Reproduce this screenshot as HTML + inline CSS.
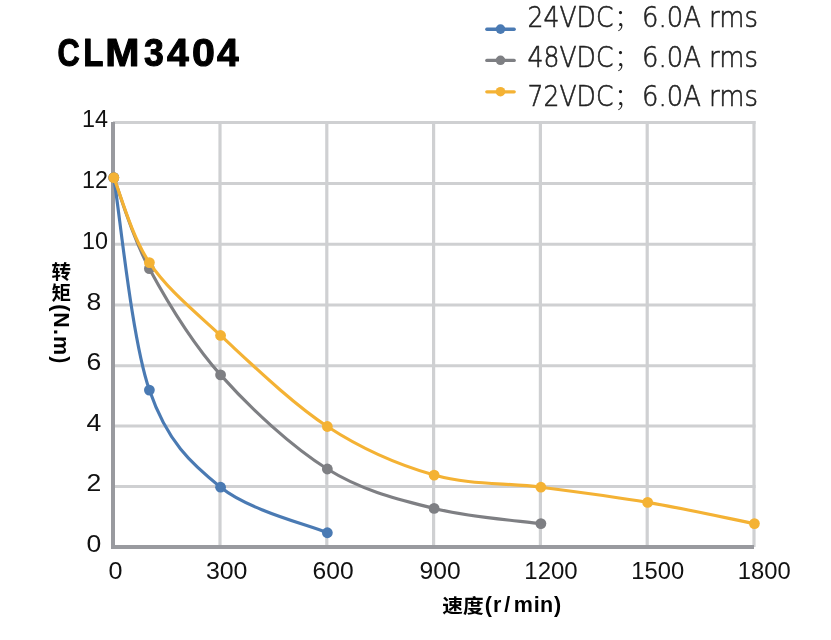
<!DOCTYPE html>
<html lang="zh"><head><meta charset="utf-8"><title>CLM3404</title>
<style>html,body{margin:0;padding:0;background:#fff}svg{display:block}</style>
</head><body>
<svg width="831" height="640" viewBox="0 0 831 640">
<rect width="831" height="640" fill="#fff"/>
<line x1="113" y1="486.60" x2="755.5" y2="486.60" stroke="#cfd0d2" stroke-width="3"/>
<line x1="113" y1="426.00" x2="755.5" y2="426.00" stroke="#cfd0d2" stroke-width="3"/>
<line x1="113" y1="365.70" x2="755.5" y2="365.70" stroke="#cfd0d2" stroke-width="3"/>
<line x1="113" y1="305.00" x2="755.5" y2="305.00" stroke="#cfd0d2" stroke-width="3"/>
<line x1="113" y1="244.25" x2="755.5" y2="244.25" stroke="#cfd0d2" stroke-width="3"/>
<line x1="113" y1="183.40" x2="755.5" y2="183.40" stroke="#cfd0d2" stroke-width="3"/>
<line x1="113" y1="122.50" x2="755.5" y2="122.50" stroke="#cfd0d2" stroke-width="3"/>
<line x1="220.00" y1="121" x2="220.00" y2="547" stroke="#cfd0d2" stroke-width="3.2"/>
<line x1="326.80" y1="121" x2="326.80" y2="547" stroke="#cfd0d2" stroke-width="3.2"/>
<line x1="433.60" y1="121" x2="433.60" y2="547" stroke="#cfd0d2" stroke-width="3.2"/>
<line x1="540.40" y1="121" x2="540.40" y2="547" stroke="#cfd0d2" stroke-width="3.2"/>
<line x1="647.20" y1="121" x2="647.20" y2="547" stroke="#cfd0d2" stroke-width="3.2"/>
<line x1="754.00" y1="121" x2="754.00" y2="547" stroke="#cfd0d2" stroke-width="3.2"/>
<line x1="113" y1="122" x2="113" y2="549" stroke="#999a9f" stroke-width="4"/>
<line x1="111" y1="547" x2="754" y2="547" stroke="#999a9f" stroke-width="4"/>
<path d="M113.80 177.63 C119.73 213.04 131.59 338.48 149.39 390.08 C167.18 441.67 190.91 463.43 220.57 487.20 C250.23 510.97 309.54 525.14 327.34 532.73" fill="none" stroke="#4a7ab3" stroke-width="3.15" stroke-linecap="round" stroke-linejoin="round"/>
<circle cx="113.80" cy="177.63" r="5.4" fill="#4a7ab3"/>
<circle cx="149.39" cy="390.08" r="5.4" fill="#4a7ab3"/>
<circle cx="220.57" cy="487.20" r="5.4" fill="#4a7ab3"/>
<circle cx="327.34" cy="532.73" r="5.4" fill="#4a7ab3"/>
<path d="M113.80 177.63 C119.73 192.81 131.59 235.80 149.39 268.68 C167.18 301.56 190.91 341.52 220.57 374.90 C250.23 408.29 291.75 446.73 327.34 468.99 C362.93 491.25 398.52 499.34 434.11 508.44 C469.70 517.55 523.09 521.09 540.88 523.62" fill="none" stroke="#7e7f83" stroke-width="3.15" stroke-linecap="round" stroke-linejoin="round"/>
<circle cx="113.80" cy="177.63" r="5.4" fill="#7e7f83"/>
<circle cx="149.39" cy="268.68" r="5.4" fill="#7e7f83"/>
<circle cx="220.57" cy="374.90" r="5.4" fill="#7e7f83"/>
<circle cx="327.34" cy="468.99" r="5.4" fill="#7e7f83"/>
<circle cx="434.11" cy="508.44" r="5.4" fill="#7e7f83"/>
<circle cx="540.88" cy="523.62" r="5.4" fill="#7e7f83"/>
<path d="M113.80 177.63 C119.73 191.79 131.59 236.31 149.39 262.61 C167.18 288.91 190.91 308.13 220.57 335.45 C250.23 362.76 291.75 403.23 327.34 426.50 C362.93 449.77 398.52 464.94 434.11 475.06 C469.70 485.18 505.29 482.65 540.88 487.20 C576.47 491.75 612.06 496.31 647.65 502.38 C683.24 508.44 736.62 520.08 754.42 523.62" fill="none" stroke="#f4b234" stroke-width="3.15" stroke-linecap="round" stroke-linejoin="round"/>
<circle cx="113.80" cy="177.63" r="5.4" fill="#f4b234"/>
<circle cx="149.39" cy="262.61" r="5.4" fill="#f4b234"/>
<circle cx="220.57" cy="335.45" r="5.4" fill="#f4b234"/>
<circle cx="327.34" cy="426.50" r="5.4" fill="#f4b234"/>
<circle cx="434.11" cy="475.06" r="5.4" fill="#f4b234"/>
<circle cx="540.88" cy="487.20" r="5.4" fill="#f4b234"/>
<circle cx="647.65" cy="502.38" r="5.4" fill="#f4b234"/>
<circle cx="754.42" cy="523.62" r="5.4" fill="#f4b234"/>
<line x1="486.8" y1="29.25" x2="514.2" y2="29.25" stroke="#4a7ab3" stroke-width="3.3" stroke-linecap="round"/>
<circle cx="500.5" cy="29.1" r="4.8" fill="#4a7ab3"/>
<line x1="486.8" y1="60.45" x2="514.2" y2="60.45" stroke="#7e7f83" stroke-width="3.3" stroke-linecap="round"/>
<circle cx="500.5" cy="60.3" r="4.8" fill="#7e7f83"/>
<line x1="486.8" y1="91.85" x2="514.2" y2="91.85" stroke="#f4b234" stroke-width="3.3" stroke-linecap="round"/>
<circle cx="500.5" cy="91.7" r="4.8" fill="#f4b234"/>
<text y="26.6" font-family="'DejaVu Sans Light', 'Liberation Sans', sans-serif" font-size="27.5" fill="#222" stroke="#222" stroke-width="0.55"><tspan x="527.6" textLength="85.8" lengthAdjust="spacingAndGlyphs">24VDC</tspan><tspan x="614.2" font-family="'Noto Sans CJK SC', sans-serif" font-weight="300" font-size="25" fill="#222" stroke="none">；</tspan><tspan x="642" textLength="116" lengthAdjust="spacingAndGlyphs">6.0A rms</tspan></text>
<text y="66.5" font-family="'DejaVu Sans Light', 'Liberation Sans', sans-serif" font-size="27.5" fill="#222" stroke="#222" stroke-width="0.55"><tspan x="527.6" textLength="85.8" lengthAdjust="spacingAndGlyphs">48VDC</tspan><tspan x="614.2" font-family="'Noto Sans CJK SC', sans-serif" font-weight="300" font-size="25" fill="#222" stroke="none">；</tspan><tspan x="642" textLength="116" lengthAdjust="spacingAndGlyphs">6.0A rms</tspan></text>
<text y="106.4" font-family="'DejaVu Sans Light', 'Liberation Sans', sans-serif" font-size="27.5" fill="#222" stroke="#222" stroke-width="0.55"><tspan x="527.6" textLength="85.8" lengthAdjust="spacingAndGlyphs">72VDC</tspan><tspan x="614.2" font-family="'Noto Sans CJK SC', sans-serif" font-weight="300" font-size="25" fill="#222" stroke="none">；</tspan><tspan x="642" textLength="116" lengthAdjust="spacingAndGlyphs">6.0A rms</tspan></text>
<text y="66.1" font-family="'Liberation Sans', sans-serif" font-weight="bold" font-size="39.5" fill="#000" stroke="#000" stroke-width="1.1" stroke-linejoin="round"><tspan x="57.6" textLength="22.2" lengthAdjust="spacingAndGlyphs">C</tspan><tspan x="83.2" textLength="20.2" lengthAdjust="spacingAndGlyphs">L</tspan><tspan x="105.3" textLength="34.2" lengthAdjust="spacingAndGlyphs">M</tspan><tspan x="143.9" textLength="19.8" lengthAdjust="spacingAndGlyphs">3</tspan><tspan x="167.0" textLength="21.8" lengthAdjust="spacingAndGlyphs">4</tspan><tspan x="191.9" textLength="22.9" lengthAdjust="spacingAndGlyphs">0</tspan><tspan x="216.9" textLength="21.7" lengthAdjust="spacingAndGlyphs">4</tspan></text>
<text x="86.6" y="551.9" font-family="'Liberation Sans', sans-serif" font-size="24.6" fill="#111" textLength="14.8" lengthAdjust="spacingAndGlyphs">0</text>
<text x="86.6" y="491.1" font-family="'Liberation Sans', sans-serif" font-size="24.6" fill="#111" textLength="14.8" lengthAdjust="spacingAndGlyphs">2</text>
<text x="86.6" y="430.5" font-family="'Liberation Sans', sans-serif" font-size="24.6" fill="#111" textLength="14.8" lengthAdjust="spacingAndGlyphs">4</text>
<text x="86.6" y="370.2" font-family="'Liberation Sans', sans-serif" font-size="24.6" fill="#111" textLength="14.8" lengthAdjust="spacingAndGlyphs">6</text>
<text x="86.6" y="309.5" font-family="'Liberation Sans', sans-serif" font-size="24.6" fill="#111" textLength="14.8" lengthAdjust="spacingAndGlyphs">8</text>
<text x="82.0" y="248.8" font-family="'Liberation Sans', sans-serif" font-size="24.6" fill="#111" textLength="26.0" lengthAdjust="spacingAndGlyphs">10</text>
<text x="82.0" y="187.9" font-family="'Liberation Sans', sans-serif" font-size="24.6" fill="#111" textLength="26.0" lengthAdjust="spacingAndGlyphs">12</text>
<text x="82.0" y="127.0" font-family="'Liberation Sans', sans-serif" font-size="24.6" fill="#111" textLength="26.0" lengthAdjust="spacingAndGlyphs">14</text>
<text x="108.4" y="579.4" font-family="'Liberation Sans', sans-serif" font-size="24.6" fill="#111" textLength="14.0" lengthAdjust="spacingAndGlyphs">0</text>
<text x="205.9" y="579.4" font-family="'Liberation Sans', sans-serif" font-size="24.6" fill="#111" textLength="41.6" lengthAdjust="spacingAndGlyphs">300</text>
<text x="312.5" y="579.4" font-family="'Liberation Sans', sans-serif" font-size="24.6" fill="#111" textLength="41.1" lengthAdjust="spacingAndGlyphs">600</text>
<text x="419.6" y="579.4" font-family="'Liberation Sans', sans-serif" font-size="24.6" fill="#111" textLength="41.1" lengthAdjust="spacingAndGlyphs">900</text>
<text x="524.3" y="579.4" font-family="'Liberation Sans', sans-serif" font-size="24.6" fill="#111" textLength="53.4" lengthAdjust="spacingAndGlyphs">1200</text>
<text x="631.3" y="579.4" font-family="'Liberation Sans', sans-serif" font-size="24.6" fill="#111" textLength="52.9" lengthAdjust="spacingAndGlyphs">1500</text>
<text x="737.8" y="579.4" font-family="'Liberation Sans', sans-serif" font-size="24.6" fill="#111" textLength="52.9" lengthAdjust="spacingAndGlyphs">1800</text>
<text x="442.2" y="612.6" font-family="'Noto Sans CJK SC', 'Liberation Sans', sans-serif" font-weight="bold" font-size="19.5" fill="#000" textLength="41.4" lengthAdjust="spacingAndGlyphs">速度</text>
<text x="484.7 492.9 504.3 513.8 533.8 539.9 553.9" y="612.4" font-family="'Liberation Sans', sans-serif" font-weight="bold" font-size="21.5" fill="#000">(r/min)</text>
<text x="61.3" y="278.6" font-family="'Noto Sans CJK SC', 'Liberation Sans', sans-serif" font-weight="bold" font-size="19.5" fill="#000" text-anchor="middle">转</text>
<text x="61.3" y="300" font-family="'Noto Sans CJK SC', 'Liberation Sans', sans-serif" font-weight="bold" font-size="19.5" fill="#000" text-anchor="middle">矩</text>
<text transform="translate(53.7 0) rotate(90)" x="304.2 312.2 329 335.9 356.3" y="0" font-family="'Liberation Sans', sans-serif" font-weight="bold" font-size="21.5" fill="#000">(N.m)</text>
</svg>
</body></html>
